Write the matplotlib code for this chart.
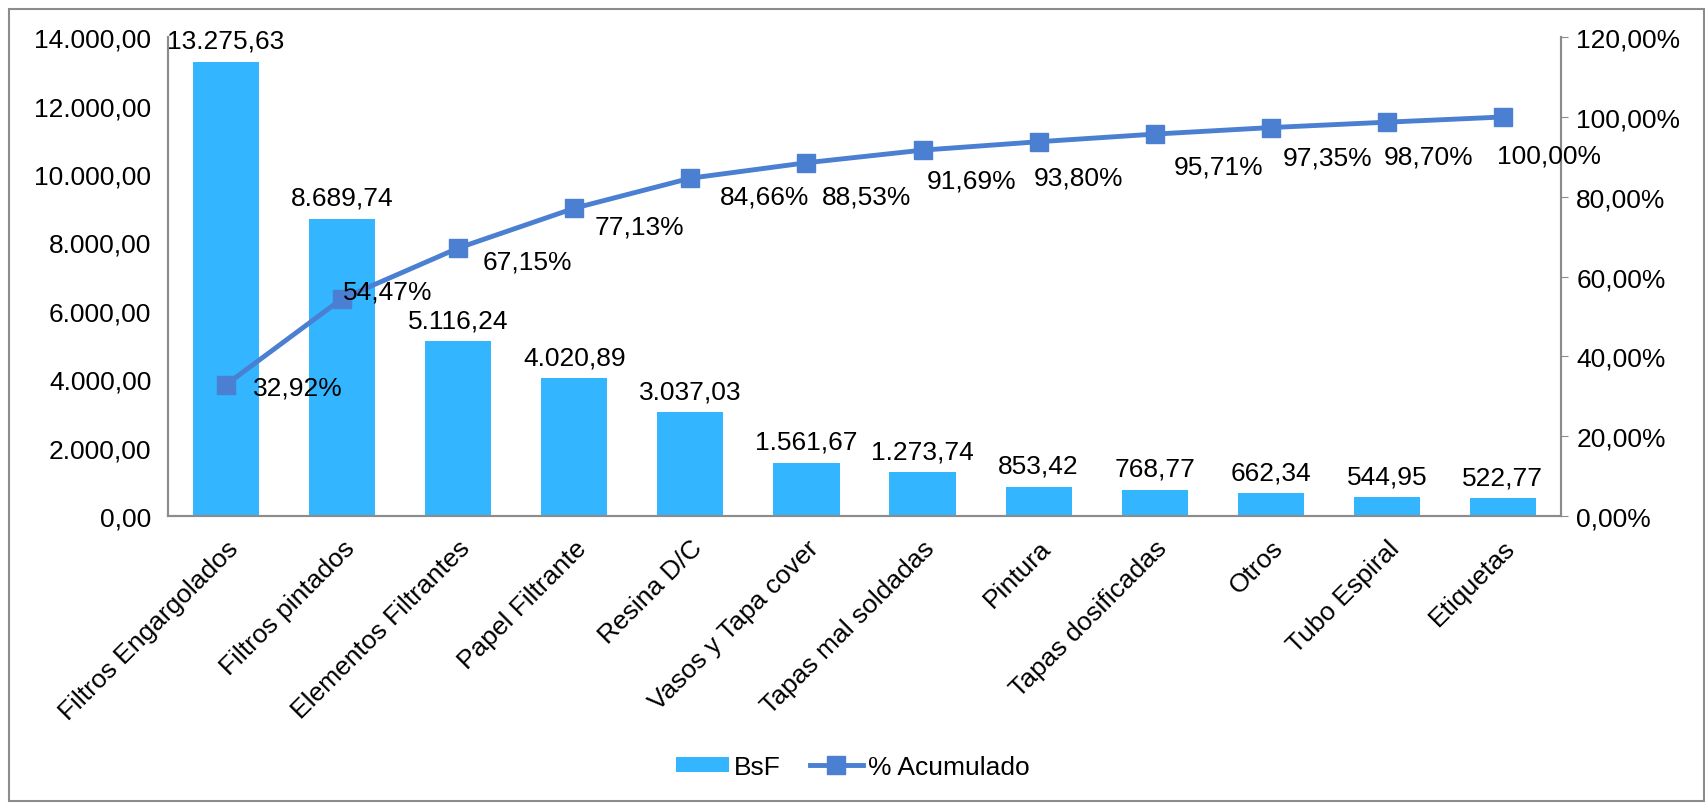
import matplotlib.pyplot as plt
from matplotlib.patches import Rectangle

plt.rcParams['font.family'] = ['Liberation Sans', 'DejaVu Sans']

# Data
categorias = ['Filtros Engargolados', 'Filtros pintados', 'Elementos Filtrantes',
              'Papel Filtrante', 'Resina D/C', 'Vasos y Tapa cover',
              'Tapas mal soldadas', 'Pintura', 'Tapas dosificadas', 'Otros',
              'Tubo Espiral', 'Etiquetas']
bsf = [13275.63, 8689.74, 5116.24, 4020.89, 3037.03, 1561.67,
       1273.74, 853.42, 768.77, 662.34, 544.95, 522.77]
acumulado = [32.92, 54.47, 67.15, 77.13, 84.66, 88.53,
             91.69, 93.80, 95.71, 97.35, 98.70, 100.00]

# offsets (pixels) of the % labels relative to the markers
pct_offsets = [(72, -3), (46, 7), (69, -13), (65, -18), (74, -18), (60, -34),
               (49, -30), (40, -36), (64, -32), (57, -30), (42, -34), (46, -39)]


def fmt_es(v, dec=2):
    s = f'{v:,.{dec}f}'
    return s.replace(',', 'X').replace('.', ',').replace('X', '.')


bar_color = '#33B5FF'
line_color = '#4A7FD1'
gray = '#8C8C8C'
fs = 19

fig = plt.figure(figsize=(17.06, 8.04), dpi=100)
ax = fig.add_axes([0.0985, 0.357, 0.8165, 0.5955])
ax2 = ax.twinx()

x = range(len(categorias))
ax.bar(x, bsf, width=0.57, color=bar_color, label='BsF', zorder=2)
for i, v in enumerate(bsf):
    ax.annotate(fmt_es(v), (i, v), xytext=(0, 9), textcoords='offset pixels',
                ha='center', va='bottom', fontsize=fs)

ax.set_xlim(-0.5, len(categorias) - 0.5)
ax.set_ylim(0, 14000)
ax.set_yticks(range(0, 14001, 2000))
ax.set_yticklabels([fmt_es(t) for t in range(0, 14001, 2000)], fontsize=fs)
ax.set_xticks(list(x))
ax.set_xticklabels(categorias, rotation=45, ha='right', rotation_mode='anchor',
                   fontsize=fs)
ax.tick_params(axis='y', length=0, pad=12)
ax.tick_params(axis='x', length=0, pad=14)

ax2.plot(x, acumulado, color=line_color, lw=3.5, marker='s', markersize=13,
         label='% Acumulado', zorder=3)
for i, v in enumerate(acumulado):
    dx, dy = pct_offsets[i]
    ax2.annotate(fmt_es(v) + '%', (i, v), xytext=(dx, dy),
                 textcoords='offset pixels', ha='center', va='center', fontsize=fs)
ax2.set_ylim(0, 120)
ax2.set_yticks(range(0, 121, 20))
ax2.set_yticklabels([fmt_es(t) + '%' for t in range(0, 121, 20)], fontsize=fs)
ax2.tick_params(axis='y', length=5, color=gray, pad=6)

for a in (ax, ax2):
    a.spines['top'].set_visible(False)
    for s in ('left', 'right', 'bottom'):
        a.spines[s].set_color(gray)
        a.spines[s].set_linewidth(1.5)

h1, l1 = ax.get_legend_handles_labels()
h2, l2 = ax2.get_legend_handles_labels()
fig.legend(h1 + h2, l1 + l2, loc='center', bbox_to_anchor=(0.5, 0.045),
           ncol=2, frameon=False, fontsize=fs, handlelength=2.0,
           handleheight=0.5, columnspacing=1.1, handletextpad=0.2)

# outer chart border
fig.patches.append(Rectangle((0.005, 0.003), 0.994, 0.985, transform=fig.transFigure,
                             fill=False, edgecolor=gray, lw=1.5))

fig.savefig('out.png', dpi=100)
